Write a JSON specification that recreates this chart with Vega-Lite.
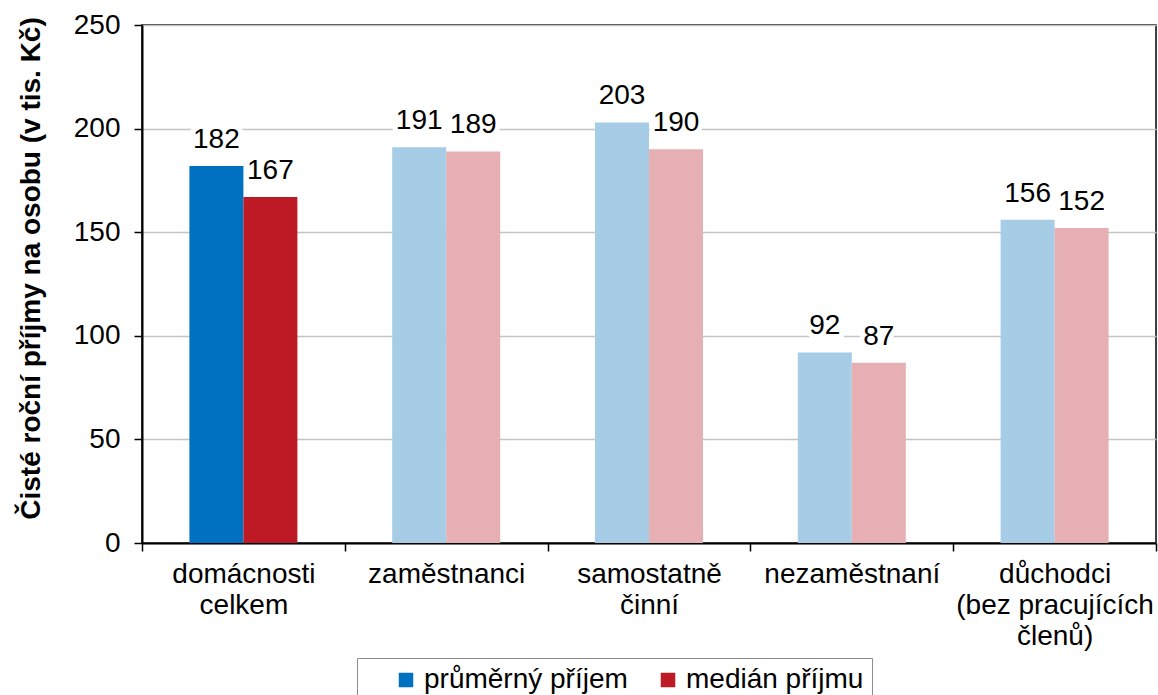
{
  "$schema": "https://vega.github.io/schema/vega-lite/v6.json",
  "autosize": {"type": "none"},
  "padding": {"left": 142, "top": 25, "right": 2, "bottom": 152},
  "width": 1014,
  "height": 518,
  "background": "white",
  "config": {
    "font": "Liberation Sans",
    "view": {"stroke": "#000000", "strokeWidth": 1.5},
    "axis": {"labelFont": "Liberation Sans", "titleFont": "Liberation Sans", "labelColor": "#000000", "titleColor": "#000000"}
  },
  "data": {
    "values": [
      {"kategorie": "domácnosti|celkem", "serie": "průměrný příjem", "hodnota": 182, "zvyrazneni": "ano"},
      {"kategorie": "domácnosti|celkem", "serie": "medián příjmu", "hodnota": 167, "zvyrazneni": "ano"},
      {"kategorie": "zaměstnanci", "serie": "průměrný příjem", "hodnota": 191, "zvyrazneni": "ne"},
      {"kategorie": "zaměstnanci", "serie": "medián příjmu", "hodnota": 189, "zvyrazneni": "ne"},
      {"kategorie": "samostatně|činní", "serie": "průměrný příjem", "hodnota": 203, "zvyrazneni": "ne"},
      {"kategorie": "samostatně|činní", "serie": "medián příjmu", "hodnota": 190, "zvyrazneni": "ne"},
      {"kategorie": "nezaměstnaní", "serie": "průměrný příjem", "hodnota": 92, "zvyrazneni": "ne"},
      {"kategorie": "nezaměstnaní", "serie": "medián příjmu", "hodnota": 87, "zvyrazneni": "ne"},
      {"kategorie": "důchodci|(bez pracujících|členů)", "serie": "průměrný příjem", "hodnota": 156, "zvyrazneni": "ne"},
      {"kategorie": "důchodci|(bez pracujících|členů)", "serie": "medián příjmu", "hodnota": 152, "zvyrazneni": "ne"}
    ]
  },
  "encoding": {
    "x": {
      "field": "kategorie", "type": "nominal", "sort": null,
      "scale": {"paddingInner": 0, "paddingOuter": 0},
      "axis": {
        "title": null, "labelAngle": 0, "labelFontSize": 28, "labelLineHeight": 31,
        "labelExpr": "split(datum.label, '|')", "labelPadding": 9, "labelBaseline": "top",
        "tickBand": "extent", "tickSize": 8, "tickColor": "#000000", "tickWidth": 1.5,
        "domainColor": "#000000", "domainWidth": 2, "labelLimit": 300
      }
    },
    "xOffset": {"field": "serie", "type": "nominal", "scale": {"domain": ["průměrný příjem", "medián příjmu"], "paddingInner": 0, "paddingOuter": 0.878}},
    "y": {
      "field": "hodnota", "type": "quantitative",
      "scale": {"domain": [0, 250], "nice": false},
      "axis": {
        "title": "Čisté roční příjmy na osobu (v tis. Kč)", "titleFontSize": 28, "titleFontWeight": "bold",
        "titleX": -103, "titleY": 243, "titleBaseline": "alphabetic", "titleAngle": 270, "titleAlign": "center",
        "values": [0, 50, 100, 150, 200, 250], "labelFontSize": 28, "labelPadding": 14,
        "tickSize": 8, "tickColor": "#000000", "tickWidth": 1.5,
        "domainColor": "#000000", "domainWidth": 2,
        "grid": true, "gridColor": "#C4C4C4", "gridWidth": 1.5
      }
    }
  },
  "layer": [
    {
      "transform": [{"filter": "datum.zvyrazneni == 'ano'"}],
      "mark": {"type": "bar", "cornerRadius": 0},
      "encoding": {
        "color": {
          "field": "serie", "type": "nominal",
          "scale": {"domain": ["průměrný příjem", "medián příjmu"], "range": ["#0070C0", "#BE1A26"]},
          "legend": {
            "orient": "none", "legendX": 215, "legendY": 633, "direction": "horizontal",
            "title": "\u2002", "titleOrient": "left", "titleFontSize": 28, "titlePadding": 27,
            "symbolType": "square", "symbolSize": 210, "symbolStrokeWidth": 0,
            "labelFontSize": 28, "labelFont": "Liberation Sans", "labelColor": "#000000", "labelOffset": 4,
            "labelLimit": 400, "gridAlign": "all",
            "columnPadding": 26, "padding": 8, "strokeColor": "#8C8C8C", "fillColor": "#FFFFFF"
          }
        }
      }
    },
    {
      "transform": [{"filter": "datum.zvyrazneni == 'ne'"}],
      "mark": {"type": "bar", "cornerRadius": 0},
      "encoding": {
        "color": {
          "field": "serie", "type": "nominal",
          "scale": {"domain": ["průměrný příjem", "medián příjmu"], "range": ["#A6CCE6", "#E6AFB3"]},
          "legend": null
        }
      }
    },
    {
      "mark": {"type": "text", "dy": -18, "baseline": "alphabetic", "fontSize": 28, "fill": "#FFFFFF", "stroke": "#FFFFFF", "strokeWidth": 10, "strokeJoin": "miter"},
      "encoding": {"text": {"field": "hodnota", "type": "quantitative"}}
    },
    {
      "mark": {"type": "text", "dy": -18, "baseline": "alphabetic", "fontSize": 28, "fill": "#000000"},
      "encoding": {"text": {"field": "hodnota", "type": "quantitative"}}
    }
  ],
  "resolve": {"scale": {"color": "independent"}, "legend": {"color": "independent"}}
}
